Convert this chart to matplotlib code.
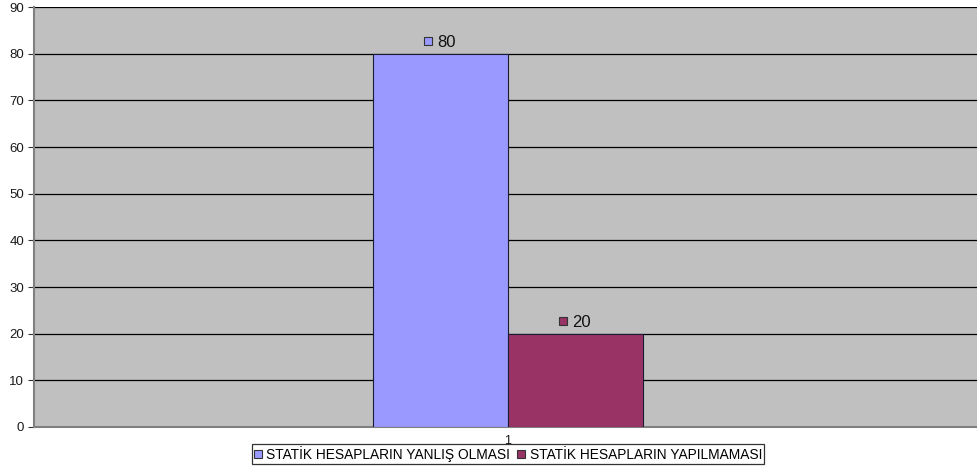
import matplotlib
matplotlib.use('Agg')
import matplotlib.pyplot as plt
from matplotlib.transforms import offset_copy

plt.rcParams['font.family'] = ['Liberation Sans', 'DejaVu Sans']

# Data
categories = ['1']
series_names = ['STATİK HESAPLARIN YANLIŞ OLMASI', 'STATİK HESAPLARIN YAPILMAMASI']
series_values = [[80], [20]]
colors = ['#9999FF', '#993366']

fig = plt.figure(figsize=(9.77, 4.7), dpi=100)
ax = fig.add_axes([0.0348, 0.0915, 0.9652, 0.8935])
ax.set_facecolor('#C0C0C0')

bar_w = 0.143
x0 = 1
for k, (name, vals) in enumerate(zip(series_names, series_values)):
    xs = [x0 + (k - 0.5) * bar_w for _ in vals]
    ax.bar(xs, vals, width=bar_w, color=colors[k], edgecolor='#1a1a33',
           linewidth=0.8, label=name, zorder=3)
    for x, v in zip(xs, vals):
        tr_m = offset_copy(ax.transData, fig=fig, x=-9, y=9, units='points')
        ax.plot([x], [v], marker='s', markersize=6, color=colors[k],
                markeredgecolor='#333333', markeredgewidth=0.8,
                transform=tr_m, clip_on=False, zorder=5)
        ax.annotate(str(v), (x, v), xytext=(-2.5, 3), textcoords='offset points',
                    fontsize=12, color='#111111', ha='left', va='bottom', zorder=5)

ax.set_xlim(0.4973, 1.4973)
ax.set_ylim(0, 90)
ax.set_yticks(range(0, 91, 10))
ax.set_xticks([1])
ax.set_xticklabels(categories)
ax.yaxis.grid(True, color='black', linewidth=0.9, zorder=1)
ax.set_axisbelow(True)
for s in ['top', 'right']:
    ax.spines[s].set_visible(False)
ax.spines['left'].set_color('#808080')
ax.spines['bottom'].set_color('#808080')
ax.spines['left'].set_linewidth(1.5)
ax.spines['bottom'].set_linewidth(1.5)
ax.tick_params(axis='y', labelsize=9.5, labelcolor='#1a1a1a', length=4,
               color='#333333', pad=3)
ax.tick_params(axis='x', labelsize=9, labelcolor='#1a1a1a', length=0, pad=6)

leg = ax.legend(loc='upper center', bbox_to_anchor=(0.5027, -0.04), ncol=2,
                fontsize=9.9, frameon=True, fancybox=False, edgecolor='black',
                handlelength=0.6, handleheight=0.6, handletextpad=0.3,
                columnspacing=0.5, borderpad=0.15, borderaxespad=0)
leg.get_frame().set_linewidth(0.9)
for h in leg.legend_handles:
    h.set_edgecolor('#333333')

fig.savefig('out.png', dpi=100)
